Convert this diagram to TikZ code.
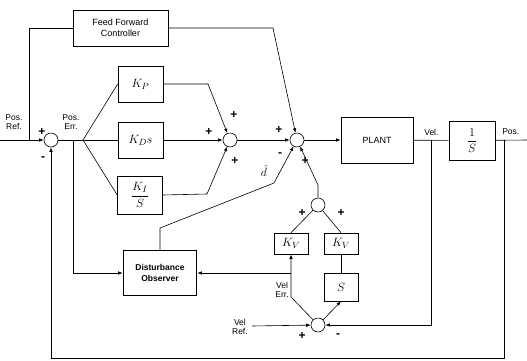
\documentclass[tikz,border=0pt]{standalone}
\usepackage{amsmath}
\usepackage{fontspec}
\setmainfont{Liberation Sans}
\usetikzlibrary{arrows.meta}

\tikzset{
  blk/.style={draw, minimum width=45pt, minimum height=36pt, inner sep=0pt, font=\fontsize{13}{15}\selectfont},
  kvblk/.style={draw, minimum width=34pt, minimum height=21pt, inner sep=0pt, font=\fontsize{13}{15}\selectfont},
  sumnode/.style={draw, circle, minimum size=14pt, inner sep=0pt},
  lbl/.style={font=\fontsize{8.5}{9.5}\selectfont, align=center, inner sep=0pt},
  sgn/.style={font=\fontsize{12}{12}\selectfont\bfseries, inner sep=0pt},
  sig/.style={-{Latex[length=4.5pt,width=3.5pt]}},
}

\begin{document}
\begin{tikzpicture}[x=1pt,y=-1pt,line width=0.6pt]
    \useasboundingbox (0,0) rectangle (527,360);

        % Blocks
        \node[draw, minimum width=95pt, minimum height=36pt, align=center, font=\fontsize{9}{11}\selectfont] (ffc) at (120.5,28) {Feed Forward\\Controller};
        \node[blk] (kp) at (140.5,84) {$K_P$};
        \node[blk] (kd) at (140.5,140) {$K_D s$};
        \node[blk, minimum height=38pt] (ki) at (140,195) {$\dfrac{K_I}{S}$};
        \node[draw, line width=1.6pt, minimum width=73pt, minimum height=45pt, align=center, font=\fontsize{8.5}{11}\selectfont\bfseries] (dob) at (160,273) {Disturbance\\Observer};
        \node[draw, minimum width=72pt, minimum height=46pt, font=\fontsize{9}{10}\selectfont] (plant) at (377,140) {PLANT};
        \node[blk, minimum width=46pt, minimum height=39pt] (integ) at (472,140.5) {$\dfrac{1}{S}$};
        \node[kvblk] (kvl) at (291,243.5) {$K_V$};
        \node[kvblk] (kvr) at (341,243.5) {$K_V$};
        \node[kvblk, minimum height=28pt] (sblk) at (341,287) {$S$};

        % Summing junctions
        \node[sumnode] (s1) at (51,140) {};
        \node[sumnode] (s2) at (230,140) {};
        \node[sumnode] (s3) at (297,140) {};
        \node[sumnode] (s4) at (318,205) {};
        \node[sumnode] (s5) at (318,325) {};

        % Points on the lines
        \coordinate (ref) at (0,140);
        \coordinate (ffin) at (29,140);
        \coordinate (err) at (73,140);
        \coordinate (fan) at (83,140);
        \coordinate (ffbend) at (273,28);
        \coordinate (kpbend) at (208,84);
        \coordinate (kibend) at (207,194);
        \coordinate (dhbend) at (160,228);
        \coordinate (dhknee) at (274,183);
        \coordinate (s4up) at (318,185);
        \coordinate (vbend) at (291,297);
        \coordinate (verr) at (291,273);
        \coordinate (vel) at (431,140);
        \coordinate (pos) at (504,140);
        \coordinate (out) at (527,140);
        \coordinate (fbr) at (504,358);
        \coordinate (vref) at (252,326);

        % Position loop
        \draw[sig] (ref) -- (s1);
        \draw (ffin) |- (ffc.west);
        \draw[sig] (ffc.east) -- (ffbend) -- (s3);
        \draw (s1) -- (fan);
        \draw (fan) -- (kp.west);
        \draw (fan) -- (kd.west);
        \draw (fan) -- (ki.west);
        \draw[sig] (kp.east) -- (kpbend) -- (s2);
        \draw[sig] (kd) -- (s2);
        \draw[sig] (ki.east) -- (kibend) -- (s2);
        \draw[sig] (s2) -- (s3);
        \draw[sig] (s3) -- (plant);
        \draw (plant) -- (integ);
        \draw (integ) -- (out);
        \draw[sig] (pos) -- (fbr) -| (s1);

        % Observer and velocity loop
        \draw[sig] (err) |- (dob);
        \draw[sig] (dob.north) -- (dhbend) -- (dhknee) -- (s3);
        \draw[sig] (s4) -- (s4up) -- (s3);
        \draw (s4) -- (kvl.north);
        \draw (s4) -- (kvr.north);
        \draw (kvr) -- (sblk);
        \draw[sig] (s5) -- (sblk.south);
        \draw[sig] (s5) -- (vbend) -- (kvl.south);
        \draw[sig] (verr) -- (dob.east);
        \draw[sig] (vel) |- (s5);
        \draw[sig] (vref) -- (s5);

        % Labels
        \node[lbl] (lref) at (14,122) {Pos.\\Ref.};
        \node[lbl] (lerr) at (71,122) {Pos.\\Err.};
        \node[lbl, anchor=west] (lvel) at (424,132) {Vel.};
        \node[lbl, anchor=west] (lpos) at (502,132) {Pos.};
        \node[lbl, anchor=east] (lverr) at (289,290) {Vel\\Err.};
        \node[lbl, anchor=east] (lvref) at (248,327) {Vel\\Ref.};
        \node[font=\fontsize{13}{15}\selectfont, inner sep=0pt] (dhat) at (264,171) {$\hat{d}$};

        % Signs
        \node[sgn] at (42,132) {+};
        \node[sgn] at (43,159) {-};
        \node[sgn] at (234,115) {+};
        \node[sgn] at (209,132) {+};
        \node[sgn] at (235,161) {+};
        \node[sgn] at (279,130) {+};
        \node[sgn] at (280,155) {-};
        \node[sgn] at (305,161) {+};
        \node[sgn] at (302,213) {+};
        \node[sgn] at (341,213) {+};
        \node[sgn] at (302,336) {+};
        \node[sgn] at (338,336) {-};

    \end{tikzpicture}
\end{document}
